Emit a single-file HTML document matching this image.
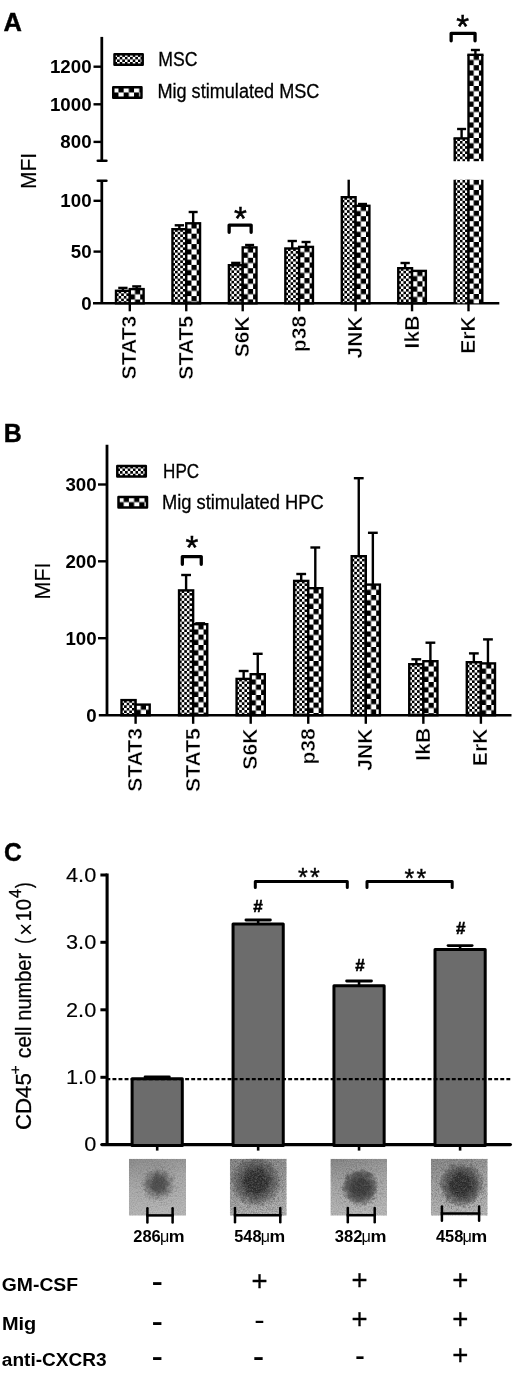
<!DOCTYPE html>
<html lang="en"><head><meta charset="utf-8"><title>Figure</title>
<style>
html,body{margin:0;padding:0;background:#fff}
body{width:520px;height:1374px;overflow:hidden}
svg{display:block}
svg text{font-family:"Liberation Sans",sans-serif;fill:#000}
</style></head><body>
<svg width="520" height="1374" viewBox="0 0 520 1374">
<defs>
<pattern id="pf" width="5.2" height="5.2" patternUnits="userSpaceOnUse"><rect width="5.2" height="5.2" fill="#fff"/><rect x="2.6" y="0" width="2.6" height="2.6" fill="#000"/><rect x="0" y="2.6" width="2.6" height="2.6" fill="#000"/></pattern>
<pattern id="pc" width="10.4" height="10.4" patternUnits="userSpaceOnUse"><rect width="10.4" height="10.4" fill="#fff"/><rect x="5.2" y="0" width="5.2" height="5.2" fill="#000"/><rect x="0" y="5.2" width="5.2" height="5.2" fill="#000"/></pattern>
<filter id="noise" x="0" y="0" width="100%" height="100%"><feTurbulence type="fractalNoise" baseFrequency="0.8" numOctaves="2" seed="7"/><feColorMatrix type="matrix" values="0 0 0 0 0  0 0 0 0 0  0 0 0 0 0  2.2 0 0 0 -0.8"/></filter>
<filter id="noise2" x="0" y="0" width="100%" height="100%"><feTurbulence type="fractalNoise" baseFrequency="0.8" numOctaves="2" seed="23"/><feColorMatrix type="matrix" values="0 0 0 0 1  0 0 0 0 1  0 0 0 0 1  2.2 0 0 0 -0.8"/></filter>
<filter id="speck" x="0" y="0" width="100%" height="100%"><feTurbulence type="fractalNoise" baseFrequency="0.45" numOctaves="3" seed="11"/><feColorMatrix type="matrix" values="0 0 0 0 0.1  0 0 0 0 0.1  0 0 0 0 0.1  0 5 0 0 -2.55"/></filter>
<filter id="rough" x="-30%" y="-30%" width="160%" height="160%"><feTurbulence type="fractalNoise" baseFrequency="0.22" numOctaves="3" seed="5" result="t"/><feDisplacementMap in="SourceGraphic" in2="t" scale="7" xChannelSelector="R" yChannelSelector="G"/></filter>
</defs>
<rect width="520" height="1374" fill="#fff"/>

<g id="panelA">
<text x="3.47" y="31.1" font-size="25.5" font-weight="bold" textLength="18.41" lengthAdjust="spacingAndGlyphs" stroke="#000" stroke-width="0.4">A</text>
<line x1="101.8" y1="36.9" x2="101.8" y2="160.8" stroke="#000" stroke-width="2.75" stroke-linecap="butt" />
<line x1="97.8" y1="160.8" x2="106.4" y2="160.8" stroke="#000" stroke-width="2.6" stroke-linecap="round" />
<line x1="101.8" y1="180.8" x2="101.8" y2="303.3" stroke="#000" stroke-width="2.75" stroke-linecap="butt" />
<line x1="97.8" y1="180.8" x2="106.4" y2="180.8" stroke="#000" stroke-width="2.6" stroke-linecap="round" />
<line x1="93" y1="303.3" x2="499.3" y2="303.3" stroke="#000" stroke-width="2.6" stroke-linecap="butt" />
<line x1="93.5" y1="66.7" x2="101.8" y2="66.7" stroke="#000" stroke-width="2.4" stroke-linecap="butt" />
<text x="49.97" y="73.13" font-size="18.7" font-weight="bold" textLength="41.6" lengthAdjust="spacingAndGlyphs">1200</text>
<line x1="93.5" y1="104.3" x2="101.8" y2="104.3" stroke="#000" stroke-width="2.4" stroke-linecap="butt" />
<text x="49.97" y="110.73" font-size="18.7" font-weight="bold" textLength="41.6" lengthAdjust="spacingAndGlyphs">1000</text>
<line x1="93.5" y1="141.9" x2="101.8" y2="141.9" stroke="#000" stroke-width="2.4" stroke-linecap="butt" />
<text x="60.37" y="148.33" font-size="18.7" font-weight="bold" textLength="31.2" lengthAdjust="spacingAndGlyphs">800</text>
<line x1="93.5" y1="200.8" x2="101.8" y2="200.8" stroke="#000" stroke-width="2.4" stroke-linecap="butt" />
<text x="60.37" y="207.23" font-size="18.7" font-weight="bold" textLength="31.2" lengthAdjust="spacingAndGlyphs">100</text>
<line x1="93.5" y1="251.6" x2="101.8" y2="251.6" stroke="#000" stroke-width="2.4" stroke-linecap="butt" />
<text x="70.77" y="258.03" font-size="18.7" font-weight="bold" textLength="20.8" lengthAdjust="spacingAndGlyphs">50</text>
<text x="81.17" y="309.73" font-size="18.7" font-weight="bold" textLength="10.4" lengthAdjust="spacingAndGlyphs">0</text>
<text x="36.2" y="188.91" font-size="22" font-weight="normal" textLength="35.94" lengthAdjust="spacingAndGlyphs" transform="rotate(-90 36.2 188.91)" stroke="#000" stroke-width="0.15">MFI</text>
<g transform="translate(114.5 54.25)"><rect x="0" y="0" width="28.2" height="10.4" fill="url(#pf)" stroke="#000" stroke-width="2.5" stroke-linejoin="round"/></g>
<g transform="translate(113.25 87.25)"><rect x="0" y="0" width="28.2" height="10.4" fill="url(#pc)" stroke="#000" stroke-width="2.5" stroke-linejoin="round"/></g>
<text x="158.35" y="66.4" font-size="19.6" font-weight="normal" textLength="39.22" lengthAdjust="spacingAndGlyphs" stroke="#000" stroke-width="0.3">MSC</text>
<text x="157.41" y="98.2" font-size="19.6" font-weight="normal" textLength="161.97" lengthAdjust="spacingAndGlyphs" stroke="#000" stroke-width="0.3">Mig stimulated MSC</text>
<line x1="122.9" y1="287.9" x2="122.9" y2="290.6" stroke="#000" stroke-width="2.4" stroke-linecap="butt" />
<line x1="118.25" y1="287.9" x2="127.55" y2="287.9" stroke="#000" stroke-width="2.4" stroke-linecap="butt" />
<g transform="translate(116 290.8)"><rect x="0" y="0" width="13.8" height="12.5" fill="url(#pf)" stroke="#000" stroke-width="2.4"/></g>
<line x1="136.7" y1="286.4" x2="136.7" y2="288.9" stroke="#000" stroke-width="2.4" stroke-linecap="butt" />
<line x1="132.2" y1="286.4" x2="141.2" y2="286.4" stroke="#000" stroke-width="2.4" stroke-linecap="butt" />
<g transform="translate(129.8 289.1)"><rect x="0" y="0" width="13.8" height="14.2" fill="url(#pc)" stroke="#000" stroke-width="2.4"/></g>
<line x1="179.35" y1="225.3" x2="179.35" y2="229" stroke="#000" stroke-width="2.4" stroke-linecap="butt" />
<line x1="174.7" y1="225.3" x2="184" y2="225.3" stroke="#000" stroke-width="2.4" stroke-linecap="butt" />
<g transform="translate(172.45 229.2)"><rect x="0" y="0" width="13.8" height="74.1" fill="url(#pf)" stroke="#000" stroke-width="2.4"/></g>
<line x1="193.15" y1="212" x2="193.15" y2="223.1" stroke="#000" stroke-width="2.4" stroke-linecap="butt" />
<line x1="188.65" y1="212" x2="197.65" y2="212" stroke="#000" stroke-width="2.4" stroke-linecap="butt" />
<g transform="translate(186.25 223.3)"><rect x="0" y="0" width="13.8" height="80" fill="url(#pc)" stroke="#000" stroke-width="2.4"/></g>
<line x1="235.8" y1="262.9" x2="235.8" y2="265" stroke="#000" stroke-width="2.4" stroke-linecap="butt" />
<line x1="231.15" y1="262.9" x2="240.45" y2="262.9" stroke="#000" stroke-width="2.4" stroke-linecap="butt" />
<g transform="translate(228.9 265.2)"><rect x="0" y="0" width="13.8" height="38.1" fill="url(#pf)" stroke="#000" stroke-width="2.4"/></g>
<line x1="249.6" y1="245" x2="249.6" y2="247.2" stroke="#000" stroke-width="2.4" stroke-linecap="butt" />
<line x1="245.1" y1="245" x2="254.1" y2="245" stroke="#000" stroke-width="2.4" stroke-linecap="butt" />
<g transform="translate(242.7 247.4)"><rect x="0" y="0" width="13.8" height="55.9" fill="url(#pc)" stroke="#000" stroke-width="2.4"/></g>
<line x1="292.25" y1="241" x2="292.25" y2="248.3" stroke="#000" stroke-width="2.4" stroke-linecap="butt" />
<line x1="287.6" y1="241" x2="296.9" y2="241" stroke="#000" stroke-width="2.4" stroke-linecap="butt" />
<g transform="translate(285.35 248.5)"><rect x="0" y="0" width="13.8" height="54.8" fill="url(#pf)" stroke="#000" stroke-width="2.4"/></g>
<line x1="306.05" y1="242" x2="306.05" y2="246.7" stroke="#000" stroke-width="2.4" stroke-linecap="butt" />
<line x1="301.55" y1="242" x2="310.55" y2="242" stroke="#000" stroke-width="2.4" stroke-linecap="butt" />
<g transform="translate(299.15 246.9)"><rect x="0" y="0" width="13.8" height="56.4" fill="url(#pc)" stroke="#000" stroke-width="2.4"/></g>
<line x1="348.7" y1="179.7" x2="348.7" y2="197" stroke="#000" stroke-width="2.4" stroke-linecap="butt" />
<g transform="translate(341.8 197.2)"><rect x="0" y="0" width="13.8" height="106.1" fill="url(#pf)" stroke="#000" stroke-width="2.4"/></g>
<line x1="362.5" y1="204" x2="362.5" y2="205.6" stroke="#000" stroke-width="2.4" stroke-linecap="butt" />
<line x1="358" y1="204" x2="367" y2="204" stroke="#000" stroke-width="2.4" stroke-linecap="butt" />
<g transform="translate(355.6 205.8)"><rect x="0" y="0" width="13.8" height="97.5" fill="url(#pc)" stroke="#000" stroke-width="2.4"/></g>
<line x1="405.15" y1="263" x2="405.15" y2="268" stroke="#000" stroke-width="2.4" stroke-linecap="butt" />
<line x1="400.5" y1="263" x2="409.8" y2="263" stroke="#000" stroke-width="2.4" stroke-linecap="butt" />
<g transform="translate(398.25 268.2)"><rect x="0" y="0" width="13.8" height="35.1" fill="url(#pf)" stroke="#000" stroke-width="2.4"/></g>
<g transform="translate(412.05 270.9)"><rect x="0" y="0" width="13.8" height="32.4" fill="url(#pc)" stroke="#000" stroke-width="2.4"/></g>
<line x1="461.6" y1="129" x2="461.6" y2="138.2" stroke="#000" stroke-width="2.4" stroke-linecap="butt" />
<line x1="457.1" y1="129" x2="466.1" y2="129" stroke="#000" stroke-width="2.4" stroke-linecap="butt" />
<g transform="translate(454.7 138.4)"><rect x="0" y="0" width="13.8" height="22.8" fill="url(#pf)"/></g>
<line x1="454.7" y1="138.4" x2="454.7" y2="161.2" stroke="#000" stroke-width="2.4" stroke-linecap="butt" />
<line x1="468.5" y1="138.4" x2="468.5" y2="161.2" stroke="#000" stroke-width="2.4" stroke-linecap="butt" />
<line x1="453.5" y1="138.4" x2="469.7" y2="138.4" stroke="#000" stroke-width="2.4" stroke-linecap="butt" />
<line x1="475.4" y1="50" x2="475.4" y2="54.6" stroke="#000" stroke-width="2.4" stroke-linecap="butt" />
<line x1="470.9" y1="50" x2="479.9" y2="50" stroke="#000" stroke-width="2.4" stroke-linecap="butt" />
<g transform="translate(468.5 54.8)"><rect x="0" y="0" width="13.8" height="106.4" fill="url(#pc)"/></g>
<line x1="468.5" y1="54.8" x2="468.5" y2="161.2" stroke="#000" stroke-width="2.4" stroke-linecap="butt" />
<line x1="482.3" y1="54.8" x2="482.3" y2="161.2" stroke="#000" stroke-width="2.4" stroke-linecap="butt" />
<line x1="467.3" y1="54.8" x2="483.5" y2="54.8" stroke="#000" stroke-width="2.4" stroke-linecap="butt" />
<g transform="translate(454.7 138.4)"><rect x="0" y="41.4" width="13.8" height="123.5" fill="url(#pf)"/></g>
<line x1="454.7" y1="179.8" x2="454.7" y2="303.3" stroke="#000" stroke-width="2.4" stroke-linecap="butt" />
<line x1="468.5" y1="179.8" x2="468.5" y2="303.3" stroke="#000" stroke-width="2.4" stroke-linecap="butt" />
<g transform="translate(468.5 54.8)"><rect x="0" y="125" width="13.8" height="123.5" fill="url(#pc)"/></g>
<line x1="468.5" y1="179.8" x2="468.5" y2="303.3" stroke="#000" stroke-width="2.4" stroke-linecap="butt" />
<line x1="482.3" y1="179.8" x2="482.3" y2="303.3" stroke="#000" stroke-width="2.4" stroke-linecap="butt" />
<line x1="129.8" y1="303.3" x2="129.8" y2="311.3" stroke="#000" stroke-width="2.4" stroke-linecap="butt" />
<text x="136.4" y="379.44" font-size="21" font-weight="bold" textLength="63.71" lengthAdjust="spacingAndGlyphs" transform="rotate(-90 136.4 379.44)" stroke="#fff" stroke-width="0.4">STAT3</text>
<line x1="186.25" y1="303.3" x2="186.25" y2="311.3" stroke="#000" stroke-width="2.4" stroke-linecap="butt" />
<text x="192.85" y="379.62" font-size="21" font-weight="bold" textLength="63.71" lengthAdjust="spacingAndGlyphs" transform="rotate(-90 192.85 379.62)" stroke="#fff" stroke-width="0.4">STAT5</text>
<line x1="242.7" y1="303.3" x2="242.7" y2="311.3" stroke="#000" stroke-width="2.4" stroke-linecap="butt" />
<text x="249.3" y="357.36" font-size="21" font-weight="bold" textLength="41.06" lengthAdjust="spacingAndGlyphs" transform="rotate(-90 249.3 357.36)" stroke="#fff" stroke-width="0.4">S6K</text>
<line x1="299.15" y1="303.3" x2="299.15" y2="311.3" stroke="#000" stroke-width="2.4" stroke-linecap="butt" />
<text x="305.75" y="352.22" font-size="21" font-weight="bold" textLength="36.37" lengthAdjust="spacingAndGlyphs" transform="rotate(-90 305.75 352.22)" stroke="#fff" stroke-width="0.4">p38</text>
<line x1="355.6" y1="303.3" x2="355.6" y2="311.3" stroke="#000" stroke-width="2.4" stroke-linecap="butt" />
<text x="362.2" y="358.52" font-size="21" font-weight="bold" textLength="42.22" lengthAdjust="spacingAndGlyphs" transform="rotate(-90 362.2 358.52)" stroke="#fff" stroke-width="0.4">JNK</text>
<line x1="412.05" y1="303.3" x2="412.05" y2="311.3" stroke="#000" stroke-width="2.4" stroke-linecap="butt" />
<text x="418.65" y="348.38" font-size="21" font-weight="bold" textLength="32.84" lengthAdjust="spacingAndGlyphs" transform="rotate(-90 418.65 348.38)" stroke="#fff" stroke-width="0.4">IkB</text>
<line x1="468.5" y1="303.3" x2="468.5" y2="311.3" stroke="#000" stroke-width="2.4" stroke-linecap="butt" />
<text x="475.1" y="353.84" font-size="21" font-weight="bold" textLength="37.53" lengthAdjust="spacingAndGlyphs" transform="rotate(-90 475.1 353.84)" stroke="#fff" stroke-width="0.4">ErK</text>
<path d="M229.15 232.35V225.05H251.15V232.35" fill="none" stroke="#000" stroke-width="3.3" stroke-linecap="round" stroke-linejoin="round"/>
<text x="240.4" y="229.61" font-size="33" text-anchor="middle" stroke="#000" stroke-width="0.45">*</text>
<path d="M451.15 40.75V33.35H475.05V40.75" fill="none" stroke="#000" stroke-width="3.3" stroke-linecap="round" stroke-linejoin="round"/>
<text x="462.6" y="37.71" font-size="33" text-anchor="middle" stroke="#000" stroke-width="0.45">*</text>
</g>
<g id="panelB">
<text x="3.83" y="442" font-size="25.8" font-weight="bold" textLength="18" lengthAdjust="spacingAndGlyphs" stroke="#000" stroke-width="0.4">B</text>
<line x1="107" y1="444.7" x2="107" y2="715.2" stroke="#000" stroke-width="2.8" stroke-linecap="butt" />
<line x1="98.8" y1="715.2" x2="511.5" y2="715.2" stroke="#000" stroke-width="2.6" stroke-linecap="butt" />
<line x1="98" y1="484.5" x2="107" y2="484.5" stroke="#000" stroke-width="2.4" stroke-linecap="butt" />
<text x="65.47" y="490.93" font-size="18.7" font-weight="bold" textLength="31.2" lengthAdjust="spacingAndGlyphs">300</text>
<line x1="98" y1="561.3" x2="107" y2="561.3" stroke="#000" stroke-width="2.4" stroke-linecap="butt" />
<text x="65.47" y="567.73" font-size="18.7" font-weight="bold" textLength="31.2" lengthAdjust="spacingAndGlyphs">200</text>
<line x1="98" y1="638.2" x2="107" y2="638.2" stroke="#000" stroke-width="2.4" stroke-linecap="butt" />
<text x="65.47" y="644.63" font-size="18.7" font-weight="bold" textLength="31.2" lengthAdjust="spacingAndGlyphs">100</text>
<text x="86.37" y="721.63" font-size="18.7" font-weight="bold" textLength="10.4" lengthAdjust="spacingAndGlyphs">0</text>
<text x="50.3" y="599.46" font-size="22" font-weight="normal" textLength="36.94" lengthAdjust="spacingAndGlyphs" transform="rotate(-90 50.3 599.46)" stroke="#000" stroke-width="0.15">MFI</text>
<g transform="translate(117.3 465.9)"><rect x="0" y="0" width="28.5" height="10.6" fill="url(#pf)" stroke="#000" stroke-width="2.5" stroke-linejoin="round"/></g>
<g transform="translate(118.5 496.9)"><rect x="0" y="0" width="28.5" height="10.6" fill="url(#pc)" stroke="#000" stroke-width="2.5" stroke-linejoin="round"/></g>
<text x="163.1" y="477.8" font-size="19.6" font-weight="normal" textLength="36.05" lengthAdjust="spacingAndGlyphs" stroke="#000" stroke-width="0.3">HPC</text>
<text x="162" y="509.2" font-size="19.6" font-weight="normal" textLength="161.7" lengthAdjust="spacingAndGlyphs" stroke="#000" stroke-width="0.3">Mig stimulated HPC</text>
<g transform="translate(121.5 700.1)"><rect x="0" y="0" width="14.1" height="15.1" fill="url(#pf)" stroke="#000" stroke-width="2.4"/></g>
<g transform="translate(135.6 704.6)"><rect x="0" y="0" width="14.1" height="10.6" fill="url(#pc)" stroke="#000" stroke-width="2.4"/></g>
<line x1="186.1" y1="575" x2="186.1" y2="590.2" stroke="#000" stroke-width="2.4" stroke-linecap="butt" />
<line x1="181.2" y1="575" x2="191" y2="575" stroke="#000" stroke-width="2.4" stroke-linecap="butt" />
<g transform="translate(179.05 590.4)"><rect x="0" y="0" width="14.1" height="124.8" fill="url(#pf)" stroke="#000" stroke-width="2.4"/></g>
<line x1="200.2" y1="623.3" x2="200.2" y2="624" stroke="#000" stroke-width="2.4" stroke-linecap="butt" />
<line x1="195.3" y1="623.3" x2="205.1" y2="623.3" stroke="#000" stroke-width="2.4" stroke-linecap="butt" />
<g transform="translate(193.15 624.2)"><rect x="0" y="0" width="14.1" height="91" fill="url(#pc)" stroke="#000" stroke-width="2.4"/></g>
<line x1="243.65" y1="671" x2="243.65" y2="678.7" stroke="#000" stroke-width="2.4" stroke-linecap="butt" />
<line x1="238.75" y1="671" x2="248.55" y2="671" stroke="#000" stroke-width="2.4" stroke-linecap="butt" />
<g transform="translate(236.6 678.9)"><rect x="0" y="0" width="14.1" height="36.3" fill="url(#pf)" stroke="#000" stroke-width="2.4"/></g>
<line x1="257.75" y1="653.8" x2="257.75" y2="674" stroke="#000" stroke-width="2.4" stroke-linecap="butt" />
<line x1="252.85" y1="653.8" x2="262.65" y2="653.8" stroke="#000" stroke-width="2.4" stroke-linecap="butt" />
<g transform="translate(250.7 674.2)"><rect x="0" y="0" width="14.1" height="41" fill="url(#pc)" stroke="#000" stroke-width="2.4"/></g>
<line x1="301.2" y1="574" x2="301.2" y2="580.7" stroke="#000" stroke-width="2.4" stroke-linecap="butt" />
<line x1="296.3" y1="574" x2="306.1" y2="574" stroke="#000" stroke-width="2.4" stroke-linecap="butt" />
<g transform="translate(294.15 580.9)"><rect x="0" y="0" width="14.1" height="134.3" fill="url(#pf)" stroke="#000" stroke-width="2.4"/></g>
<line x1="315.3" y1="547.5" x2="315.3" y2="588" stroke="#000" stroke-width="2.4" stroke-linecap="butt" />
<line x1="310.4" y1="547.5" x2="320.2" y2="547.5" stroke="#000" stroke-width="2.4" stroke-linecap="butt" />
<g transform="translate(308.25 588.2)"><rect x="0" y="0" width="14.1" height="127" fill="url(#pc)" stroke="#000" stroke-width="2.4"/></g>
<line x1="358.75" y1="478.2" x2="358.75" y2="556" stroke="#000" stroke-width="2.4" stroke-linecap="butt" />
<line x1="353.85" y1="478.2" x2="363.65" y2="478.2" stroke="#000" stroke-width="2.4" stroke-linecap="butt" />
<g transform="translate(351.7 556.2)"><rect x="0" y="0" width="14.1" height="159" fill="url(#pf)" stroke="#000" stroke-width="2.4"/></g>
<line x1="372.85" y1="532.8" x2="372.85" y2="584.4" stroke="#000" stroke-width="2.4" stroke-linecap="butt" />
<line x1="367.95" y1="532.8" x2="377.75" y2="532.8" stroke="#000" stroke-width="2.4" stroke-linecap="butt" />
<g transform="translate(365.8 584.6)"><rect x="0" y="0" width="14.1" height="130.6" fill="url(#pc)" stroke="#000" stroke-width="2.4"/></g>
<line x1="416.3" y1="659.3" x2="416.3" y2="664" stroke="#000" stroke-width="2.4" stroke-linecap="butt" />
<line x1="411.4" y1="659.3" x2="421.2" y2="659.3" stroke="#000" stroke-width="2.4" stroke-linecap="butt" />
<g transform="translate(409.25 664.2)"><rect x="0" y="0" width="14.1" height="51" fill="url(#pf)" stroke="#000" stroke-width="2.4"/></g>
<line x1="430.4" y1="642.7" x2="430.4" y2="661" stroke="#000" stroke-width="2.4" stroke-linecap="butt" />
<line x1="425.5" y1="642.7" x2="435.3" y2="642.7" stroke="#000" stroke-width="2.4" stroke-linecap="butt" />
<g transform="translate(423.35 661.2)"><rect x="0" y="0" width="14.1" height="54" fill="url(#pc)" stroke="#000" stroke-width="2.4"/></g>
<line x1="473.85" y1="653.4" x2="473.85" y2="662" stroke="#000" stroke-width="2.4" stroke-linecap="butt" />
<line x1="468.95" y1="653.4" x2="478.75" y2="653.4" stroke="#000" stroke-width="2.4" stroke-linecap="butt" />
<g transform="translate(466.8 662.2)"><rect x="0" y="0" width="14.1" height="53" fill="url(#pf)" stroke="#000" stroke-width="2.4"/></g>
<line x1="487.95" y1="639.4" x2="487.95" y2="663.2" stroke="#000" stroke-width="2.4" stroke-linecap="butt" />
<line x1="483.05" y1="639.4" x2="492.85" y2="639.4" stroke="#000" stroke-width="2.4" stroke-linecap="butt" />
<g transform="translate(480.9 663.4)"><rect x="0" y="0" width="14.1" height="51.8" fill="url(#pc)" stroke="#000" stroke-width="2.4"/></g>
<line x1="135.6" y1="715.2" x2="135.6" y2="723.8" stroke="#000" stroke-width="2.4" stroke-linecap="butt" />
<text x="142.2" y="791.74" font-size="21" font-weight="bold" textLength="63.71" lengthAdjust="spacingAndGlyphs" transform="rotate(-90 142.2 791.74)" stroke="#fff" stroke-width="0.4">STAT3</text>
<line x1="193.15" y1="715.2" x2="193.15" y2="723.8" stroke="#000" stroke-width="2.4" stroke-linecap="butt" />
<text x="199.75" y="791.92" font-size="21" font-weight="bold" textLength="63.71" lengthAdjust="spacingAndGlyphs" transform="rotate(-90 199.75 791.92)" stroke="#fff" stroke-width="0.4">STAT5</text>
<line x1="250.7" y1="715.2" x2="250.7" y2="723.8" stroke="#000" stroke-width="2.4" stroke-linecap="butt" />
<text x="257.3" y="769.66" font-size="21" font-weight="bold" textLength="41.06" lengthAdjust="spacingAndGlyphs" transform="rotate(-90 257.3 769.66)" stroke="#fff" stroke-width="0.4">S6K</text>
<line x1="308.25" y1="715.2" x2="308.25" y2="723.8" stroke="#000" stroke-width="2.4" stroke-linecap="butt" />
<text x="314.85" y="764.52" font-size="21" font-weight="bold" textLength="36.37" lengthAdjust="spacingAndGlyphs" transform="rotate(-90 314.85 764.52)" stroke="#fff" stroke-width="0.4">p38</text>
<line x1="365.8" y1="715.2" x2="365.8" y2="723.8" stroke="#000" stroke-width="2.4" stroke-linecap="butt" />
<text x="372.4" y="770.82" font-size="21" font-weight="bold" textLength="42.22" lengthAdjust="spacingAndGlyphs" transform="rotate(-90 372.4 770.82)" stroke="#fff" stroke-width="0.4">JNK</text>
<line x1="423.35" y1="715.2" x2="423.35" y2="723.8" stroke="#000" stroke-width="2.4" stroke-linecap="butt" />
<text x="429.95" y="760.68" font-size="21" font-weight="bold" textLength="32.84" lengthAdjust="spacingAndGlyphs" transform="rotate(-90 429.95 760.68)" stroke="#fff" stroke-width="0.4">IkB</text>
<line x1="480.9" y1="715.2" x2="480.9" y2="723.8" stroke="#000" stroke-width="2.4" stroke-linecap="butt" />
<text x="487.5" y="766.14" font-size="21" font-weight="bold" textLength="37.53" lengthAdjust="spacingAndGlyphs" transform="rotate(-90 487.5 766.14)" stroke="#fff" stroke-width="0.4">ErK</text>
<path d="M182.35 564.25V556.55H201.25V564.25" fill="none" stroke="#000" stroke-width="3.3" stroke-linecap="round" stroke-linejoin="round"/>
<text x="191.8" y="558.81" font-size="33" text-anchor="middle" stroke="#000" stroke-width="0.45">*</text>
</g>
<g id="panelC">
<text x="3.89" y="861.3" font-size="26" font-weight="bold" textLength="17.78" lengthAdjust="spacingAndGlyphs" stroke="#000" stroke-width="0.4">C</text>
<line x1="107.1" y1="873.4" x2="107.1" y2="1146.05" stroke="#000" stroke-width="3.1" stroke-linecap="butt" />
<line x1="101.8" y1="1144.55" x2="510.4" y2="1144.55" stroke="#000" stroke-width="3.2" stroke-linecap="round" />
<line x1="100.4" y1="875" x2="107.1" y2="875" stroke="#000" stroke-width="3" stroke-linecap="butt" />
<text x="66.03" y="881.7" font-size="21" font-weight="normal" textLength="30.21" lengthAdjust="spacingAndGlyphs" stroke="#000" stroke-width="0.15">4.0</text>
<line x1="100.4" y1="942.3" x2="107.1" y2="942.3" stroke="#000" stroke-width="3" stroke-linecap="butt" />
<text x="66.03" y="949" font-size="21" font-weight="normal" textLength="30.21" lengthAdjust="spacingAndGlyphs" stroke="#000" stroke-width="0.15">3.0</text>
<line x1="100.4" y1="1009.8" x2="107.1" y2="1009.8" stroke="#000" stroke-width="3" stroke-linecap="butt" />
<text x="66.03" y="1016.5" font-size="21" font-weight="normal" textLength="30.21" lengthAdjust="spacingAndGlyphs" stroke="#000" stroke-width="0.15">2.0</text>
<line x1="100.4" y1="1077.3" x2="107.1" y2="1077.3" stroke="#000" stroke-width="3" stroke-linecap="butt" />
<text x="66.03" y="1084" font-size="21" font-weight="normal" textLength="30.21" lengthAdjust="spacingAndGlyphs" stroke="#000" stroke-width="0.15">1.0</text>
<text x="84.16" y="1150.85" font-size="21" font-weight="normal" textLength="12.09" lengthAdjust="spacingAndGlyphs" stroke="#000" stroke-width="0.15">0</text>
<text transform="rotate(-90)"><tspan x="-1130.03" y="31.2" font-size="22.6" font-weight="normal" textLength="56.86" lengthAdjust="spacingAndGlyphs" stroke="#000" stroke-width="0.3">CD45</tspan><tspan x="-1074.34" y="19.9" font-size="15" font-weight="normal" textLength="8.89" lengthAdjust="spacingAndGlyphs" stroke="#000" stroke-width="0.3">+</tspan><tspan> </tspan><tspan x="-1058.3" y="31.2" font-size="22.6" font-weight="normal" textLength="31.71" lengthAdjust="spacingAndGlyphs" stroke="#000" stroke-width="0.3">cell</tspan><tspan> </tspan><tspan x="-1020.63" y="31.2" font-size="22.6" font-weight="normal" textLength="67.66" lengthAdjust="spacingAndGlyphs" stroke="#000" stroke-width="0.3">number</tspan><tspan> </tspan><tspan x="-943.65" y="31.2" font-size="22.6" font-weight="normal" textLength="5.65" lengthAdjust="spacingAndGlyphs" stroke="#000" stroke-width="0.3">(</tspan><tspan x="-935.72" y="33.8" font-size="23" font-weight="normal" textLength="12.84" lengthAdjust="spacingAndGlyphs">×</tspan><tspan x="-921.54" y="31.2" font-size="22.6" font-weight="normal" textLength="22.53" lengthAdjust="spacingAndGlyphs" stroke="#000" stroke-width="0.3">10</tspan><tspan x="-897.97" y="21" font-size="16.5" font-weight="normal" textLength="8.94" lengthAdjust="spacingAndGlyphs" stroke="#000" stroke-width="0.3">4</tspan><tspan x="-888" y="31.2" font-size="22.6" font-weight="normal" textLength="5.65" lengthAdjust="spacingAndGlyphs" stroke="#000" stroke-width="0.3">)</tspan></text>
<line x1="157.2" y1="1144.55" x2="157.2" y2="1150.6" stroke="#000" stroke-width="2.6" stroke-linecap="butt" />
<line x1="157.2" y1="1076.9" x2="157.2" y2="1078.3" stroke="#000" stroke-width="2.6" stroke-linecap="butt" />
<line x1="145.1" y1="1076.9" x2="169.3" y2="1076.9" stroke="#000" stroke-width="2.9" stroke-linecap="round" />
<g transform="translate(132.1 1078.8)"><rect x="0" y="0" width="50.2" height="66.75" fill="#6c6c6c" stroke="#000" stroke-width="3" stroke-linejoin="round"/></g>
<line x1="258.15" y1="1144.55" x2="258.15" y2="1150.6" stroke="#000" stroke-width="2.6" stroke-linecap="butt" />
<line x1="258.15" y1="920" x2="258.15" y2="923.6" stroke="#000" stroke-width="2.6" stroke-linecap="butt" />
<line x1="245.95" y1="920" x2="270.35" y2="920" stroke="#000" stroke-width="2.9" stroke-linecap="round" />
<g transform="translate(233.05 924.1)"><rect x="0" y="0" width="50.2" height="221.45" fill="#6c6c6c" stroke="#000" stroke-width="3" stroke-linejoin="round"/></g>
<line x1="359.05" y1="1144.55" x2="359.05" y2="1150.6" stroke="#000" stroke-width="2.6" stroke-linecap="butt" />
<line x1="359.05" y1="981" x2="359.05" y2="985.3" stroke="#000" stroke-width="2.6" stroke-linecap="butt" />
<line x1="346.65" y1="981" x2="371.45" y2="981" stroke="#000" stroke-width="2.9" stroke-linecap="round" />
<g transform="translate(333.95 985.8)"><rect x="0" y="0" width="50.2" height="159.75" fill="#6c6c6c" stroke="#000" stroke-width="3" stroke-linejoin="round"/></g>
<line x1="460.1" y1="1144.55" x2="460.1" y2="1150.6" stroke="#000" stroke-width="2.6" stroke-linecap="butt" />
<line x1="460.1" y1="945.6" x2="460.1" y2="949.1" stroke="#000" stroke-width="2.6" stroke-linecap="butt" />
<line x1="448.1" y1="945.6" x2="472.1" y2="945.6" stroke="#000" stroke-width="2.9" stroke-linecap="round" />
<g transform="translate(435 949.6)"><rect x="0" y="0" width="50.2" height="195.95" fill="#6c6c6c" stroke="#000" stroke-width="3" stroke-linejoin="round"/></g>
<line x1="106.4" y1="1079.1" x2="511" y2="1079.1" stroke="#000" stroke-width="2.1" stroke-dasharray="3.9 2.16"/>
<path d="M255.3 887.4V881.5H347.3V887.4" fill="none" stroke="#000" stroke-width="3" stroke-linecap="round" stroke-linejoin="round"/>
<path d="M367 887.4V881.5H452.2V887.4" fill="none" stroke="#000" stroke-width="3" stroke-linecap="round" stroke-linejoin="round"/>
<text x="298.12" y="886.41" font-size="25" letter-spacing="2.28" stroke="#000" stroke-width="0.4">**</text>
<text x="404.43" y="886.61" font-size="25" letter-spacing="2.28" stroke="#000" stroke-width="0.4">**</text>
<text x="258.1" y="911.5" font-size="17" font-weight="bold" text-anchor="middle" stroke="#000" stroke-width="0.55">#</text>
<text x="360" y="971" font-size="17" font-weight="bold" text-anchor="middle" stroke="#000" stroke-width="0.55">#</text>
<text x="460.7" y="933.9" font-size="17" font-weight="bold" text-anchor="middle" stroke="#000" stroke-width="0.55">#</text>
<defs><linearGradient id="bg0" x1="0" y1="0" x2="0.22" y2="1"><stop offset="0" stop-color="#8c8c8c"/><stop offset="0.5" stop-color="#ababab"/><stop offset="1" stop-color="#b7b7b7"/></linearGradient><radialGradient id="bl0" cx="158.2" cy="1184" r="17" gradientUnits="userSpaceOnUse"><stop offset="0" stop-color="#4a4a4a" stop-opacity="1"/><stop offset="0.4" stop-color="#4a4a4a" stop-opacity="0.9"/><stop offset="0.72" stop-color="#6c6c6c" stop-opacity="0.6"/><stop offset="1" stop-color="#6c6c6c" stop-opacity="0"/></radialGradient><radialGradient id="sp0" cx="158.2" cy="1184" r="25.5" gradientUnits="userSpaceOnUse"><stop offset="0" stop-color="#fff"/><stop offset="0.55" stop-color="#fff"/><stop offset="1" stop-color="#000"/></radialGradient><mask id="mk0" maskUnits="userSpaceOnUse" x="128.9" y="1158.8" width="57.1" height="56.9"><rect x="128.9" y="1158.8" width="57.1" height="56.9" fill="url(#sp0)"/></mask><clipPath id="cp0"><rect x="128.9" y="1158.8" width="57.1" height="56.9"/></clipPath></defs>
<g clip-path="url(#cp0)">
<rect x="128.9" y="1158.8" width="57.1" height="56.9" fill="url(#bg0)"/>
<circle cx="158.2" cy="1184" r="17" fill="url(#bl0)" filter="url(#rough)"/>
<g mask="url(#mk0)"><rect x="128.9" y="1158.8" width="57.1" height="56.9" fill="#222" filter="url(#speck)" opacity="0.4"/></g>
<rect x="128.9" y="1158.8" width="57.1" height="56.9" fill="#000" filter="url(#noise)" opacity="0.12"/>
<rect x="128.9" y="1158.8" width="57.1" height="56.9" fill="#fff" filter="url(#noise2)" opacity="0.07"/>
</g>
<line x1="146.2" y1="1215.4" x2="173.8" y2="1215.4" stroke="#000" stroke-width="2.5" stroke-linecap="butt" />
<line x1="147.4" y1="1208.3" x2="147.4" y2="1222.5" stroke="#000" stroke-width="2.5" stroke-linecap="round" />
<line x1="172.6" y1="1208.3" x2="172.6" y2="1222.5" stroke="#000" stroke-width="2.5" stroke-linecap="round" />
<text><tspan x="133.23" y="1241.6" font-size="16.6" font-weight="bold" textLength="27.56" lengthAdjust="spacingAndGlyphs">286</tspan><tspan x="159.89" y="1241.6" font-size="16.93" font-weight="normal" textLength="9.32" lengthAdjust="spacingAndGlyphs">μ</tspan><tspan x="168.69" y="1241.6" font-size="16.6" font-weight="bold" textLength="15.82" lengthAdjust="spacingAndGlyphs">m</tspan></text>
<defs><linearGradient id="bg1" x1="0" y1="0" x2="0.22" y2="1"><stop offset="0" stop-color="#888888"/><stop offset="0.5" stop-color="#9e9e9e"/><stop offset="1" stop-color="#b2b2b2"/></linearGradient><radialGradient id="bl1" cx="256" cy="1181.5" r="26" gradientUnits="userSpaceOnUse"><stop offset="0" stop-color="#2c2c2c" stop-opacity="1"/><stop offset="0.4" stop-color="#2c2c2c" stop-opacity="0.97"/><stop offset="0.68" stop-color="#545454" stop-opacity="0.8"/><stop offset="0.85" stop-color="#545454" stop-opacity="0.45"/><stop offset="1" stop-color="#545454" stop-opacity="0"/></radialGradient><radialGradient id="sp1" cx="256" cy="1181.5" r="39" gradientUnits="userSpaceOnUse"><stop offset="0" stop-color="#fff"/><stop offset="0.55" stop-color="#fff"/><stop offset="1" stop-color="#000"/></radialGradient><mask id="mk1" maskUnits="userSpaceOnUse" x="229.9" y="1158.8" width="56.8" height="56.9"><rect x="229.9" y="1158.8" width="56.8" height="56.9" fill="url(#sp1)"/></mask><clipPath id="cp1"><rect x="229.9" y="1158.8" width="56.8" height="56.9"/></clipPath></defs>
<g clip-path="url(#cp1)">
<rect x="229.9" y="1158.8" width="56.8" height="56.9" fill="url(#bg1)"/>
<circle cx="256" cy="1181.5" r="26" fill="url(#bl1)" filter="url(#rough)"/>
<g mask="url(#mk1)"><rect x="229.9" y="1158.8" width="56.8" height="56.9" fill="#222" filter="url(#speck)" opacity="0.55"/></g>
<rect x="229.9" y="1158.8" width="56.8" height="56.9" fill="#000" filter="url(#noise)" opacity="0.26"/>
<rect x="229.9" y="1158.8" width="56.8" height="56.9" fill="#fff" filter="url(#noise2)" opacity="0.16"/>
</g>
<line x1="233.8" y1="1215.2" x2="281.5" y2="1215.2" stroke="#000" stroke-width="2.5" stroke-linecap="butt" />
<line x1="235" y1="1208.1" x2="235" y2="1222.3" stroke="#000" stroke-width="2.5" stroke-linecap="round" />
<line x1="280.3" y1="1208.1" x2="280.3" y2="1222.3" stroke="#000" stroke-width="2.5" stroke-linecap="round" />
<text><tspan x="234.3" y="1241.6" font-size="16.6" font-weight="bold" textLength="27.18" lengthAdjust="spacingAndGlyphs">548</tspan><tspan x="260.68" y="1241.6" font-size="16.93" font-weight="normal" textLength="9.24" lengthAdjust="spacingAndGlyphs">μ</tspan><tspan x="269.41" y="1241.6" font-size="16.6" font-weight="bold" textLength="15.69" lengthAdjust="spacingAndGlyphs">m</tspan></text>
<defs><linearGradient id="bg2" x1="0" y1="0" x2="0.22" y2="1"><stop offset="0" stop-color="#858585"/><stop offset="0.5" stop-color="#a9a9a9"/><stop offset="1" stop-color="#b8b8b8"/></linearGradient><radialGradient id="bl2" cx="360.2" cy="1187" r="18.5" gradientUnits="userSpaceOnUse"><stop offset="0" stop-color="#383838" stop-opacity="1"/><stop offset="0.45" stop-color="#383838" stop-opacity="0.96"/><stop offset="0.78" stop-color="#5c5c5c" stop-opacity="0.88"/><stop offset="0.9" stop-color="#5c5c5c" stop-opacity="0.5"/><stop offset="1" stop-color="#5c5c5c" stop-opacity="0"/></radialGradient><radialGradient id="sp2" cx="360.2" cy="1187" r="27.75" gradientUnits="userSpaceOnUse"><stop offset="0" stop-color="#fff"/><stop offset="0.55" stop-color="#fff"/><stop offset="1" stop-color="#000"/></radialGradient><mask id="mk2" maskUnits="userSpaceOnUse" x="330.4" y="1158.8" width="56.6" height="56.9"><rect x="330.4" y="1158.8" width="56.6" height="56.9" fill="url(#sp2)"/></mask><clipPath id="cp2"><rect x="330.4" y="1158.8" width="56.6" height="56.9"/></clipPath></defs>
<g clip-path="url(#cp2)">
<rect x="330.4" y="1158.8" width="56.6" height="56.9" fill="url(#bg2)"/>
<circle cx="360.2" cy="1187" r="18.5" fill="url(#bl2)" filter="url(#rough)"/>
<g mask="url(#mk2)"><rect x="330.4" y="1158.8" width="56.6" height="56.9" fill="#222" filter="url(#speck)" opacity="0.5"/></g>
<rect x="330.4" y="1158.8" width="56.6" height="56.9" fill="#000" filter="url(#noise)" opacity="0.15"/>
<rect x="330.4" y="1158.8" width="56.6" height="56.9" fill="#fff" filter="url(#noise2)" opacity="0.09"/>
</g>
<line x1="346.6" y1="1215.2" x2="375.9" y2="1215.2" stroke="#000" stroke-width="2.5" stroke-linecap="butt" />
<line x1="347.8" y1="1208.1" x2="347.8" y2="1222.3" stroke="#000" stroke-width="2.5" stroke-linecap="round" />
<line x1="374.7" y1="1208.1" x2="374.7" y2="1222.3" stroke="#000" stroke-width="2.5" stroke-linecap="round" />
<text><tspan x="334.82" y="1241.6" font-size="16.6" font-weight="bold" textLength="27.7" lengthAdjust="spacingAndGlyphs">382</tspan><tspan x="361.55" y="1241.6" font-size="16.93" font-weight="normal" textLength="9.41" lengthAdjust="spacingAndGlyphs">μ</tspan><tspan x="370.44" y="1241.6" font-size="16.6" font-weight="bold" textLength="15.98" lengthAdjust="spacingAndGlyphs">m</tspan></text>
<defs><linearGradient id="bg3" x1="0" y1="0" x2="0.22" y2="1"><stop offset="0" stop-color="#888888"/><stop offset="0.5" stop-color="#a6a6a6"/><stop offset="1" stop-color="#b8b8b8"/></linearGradient><radialGradient id="bl3" cx="461.4" cy="1184.6" r="22.5" gradientUnits="userSpaceOnUse"><stop offset="0" stop-color="#2c2c2c" stop-opacity="1"/><stop offset="0.42" stop-color="#2c2c2c" stop-opacity="0.97"/><stop offset="0.75" stop-color="#565656" stop-opacity="0.85"/><stop offset="0.88" stop-color="#565656" stop-opacity="0.5"/><stop offset="1" stop-color="#565656" stop-opacity="0"/></radialGradient><radialGradient id="sp3" cx="461.4" cy="1184.6" r="33.75" gradientUnits="userSpaceOnUse"><stop offset="0" stop-color="#fff"/><stop offset="0.55" stop-color="#fff"/><stop offset="1" stop-color="#000"/></radialGradient><mask id="mk3" maskUnits="userSpaceOnUse" x="430.9" y="1158.8" width="56.8" height="56.9"><rect x="430.9" y="1158.8" width="56.8" height="56.9" fill="url(#sp3)"/></mask><clipPath id="cp3"><rect x="430.9" y="1158.8" width="56.8" height="56.9"/></clipPath></defs>
<g clip-path="url(#cp3)">
<rect x="430.9" y="1158.8" width="56.8" height="56.9" fill="url(#bg3)"/>
<circle cx="461.4" cy="1184.6" r="22.5" fill="url(#bl3)" filter="url(#rough)"/>
<g mask="url(#mk3)"><rect x="430.9" y="1158.8" width="56.8" height="56.9" fill="#222" filter="url(#speck)" opacity="0.55"/></g>
<rect x="430.9" y="1158.8" width="56.8" height="56.9" fill="#000" filter="url(#noise)" opacity="0.22"/>
<rect x="430.9" y="1158.8" width="56.8" height="56.9" fill="#fff" filter="url(#noise2)" opacity="0.13"/>
</g>
<line x1="440.7" y1="1213.6" x2="480.3" y2="1213.6" stroke="#000" stroke-width="2.5" stroke-linecap="butt" />
<line x1="441.9" y1="1206.5" x2="441.9" y2="1220.7" stroke="#000" stroke-width="2.5" stroke-linecap="round" />
<line x1="479.1" y1="1206.5" x2="479.1" y2="1220.7" stroke="#000" stroke-width="2.5" stroke-linecap="round" />
<text><tspan x="435.95" y="1241.6" font-size="16.6" font-weight="bold" textLength="27.35" lengthAdjust="spacingAndGlyphs">458</tspan><tspan x="462.5" y="1241.6" font-size="16.93" font-weight="normal" textLength="9.39" lengthAdjust="spacingAndGlyphs">μ</tspan><tspan x="471.37" y="1241.6" font-size="16.6" font-weight="bold" textLength="15.94" lengthAdjust="spacingAndGlyphs">m</tspan></text>
<text x="1.81" y="1291" font-size="18.8" font-weight="bold" textLength="76.3" lengthAdjust="spacingAndGlyphs">GM-CSF</text>
<text x="1.96" y="1330.2" font-size="18.8" font-weight="bold" textLength="34.37" lengthAdjust="spacingAndGlyphs">Mig</text>
<text x="1.84" y="1366" font-size="18.8" font-weight="bold" textLength="104.85" lengthAdjust="spacingAndGlyphs">anti-CXCR3</text>
<text x="151.81" y="1290.31" font-size="23.53" font-weight="bold" textLength="11.02" lengthAdjust="spacingAndGlyphs">-</text>
<text x="151.81" y="1329.91" font-size="23.53" font-weight="bold" textLength="11.02" lengthAdjust="spacingAndGlyphs">-</text>
<text x="151.81" y="1365.31" font-size="23.53" font-weight="bold" textLength="11.02" lengthAdjust="spacingAndGlyphs">-</text>
<text x="259.6" y="1289.54" font-size="27.5" text-anchor="middle" stroke="#000" stroke-width="0.3">+</text>
<text x="254.63" y="1326.5" font-size="18.49" font-weight="bold" textLength="9.97" lengthAdjust="spacingAndGlyphs">-</text>
<text x="253.01" y="1365.31" font-size="23.53" font-weight="bold" textLength="11.02" lengthAdjust="spacingAndGlyphs">-</text>
<text x="359.6" y="1289.34" font-size="27.5" text-anchor="middle" stroke="#000" stroke-width="0.3">+</text>
<text x="359.6" y="1328.14" font-size="27.5" text-anchor="middle" stroke="#000" stroke-width="0.3">+</text>
<text x="355.29" y="1362.67" font-size="21.85" font-weight="bold" textLength="9.44" lengthAdjust="spacingAndGlyphs">-</text>
<text x="460.4" y="1289.34" font-size="27.5" text-anchor="middle" stroke="#000" stroke-width="0.3">+</text>
<text x="460.4" y="1328.14" font-size="27.5" text-anchor="middle" stroke="#000" stroke-width="0.3">+</text>
<text x="460.4" y="1364.14" font-size="27.5" text-anchor="middle" stroke="#000" stroke-width="0.3">+</text>
</g>
</svg>
</body></html>
